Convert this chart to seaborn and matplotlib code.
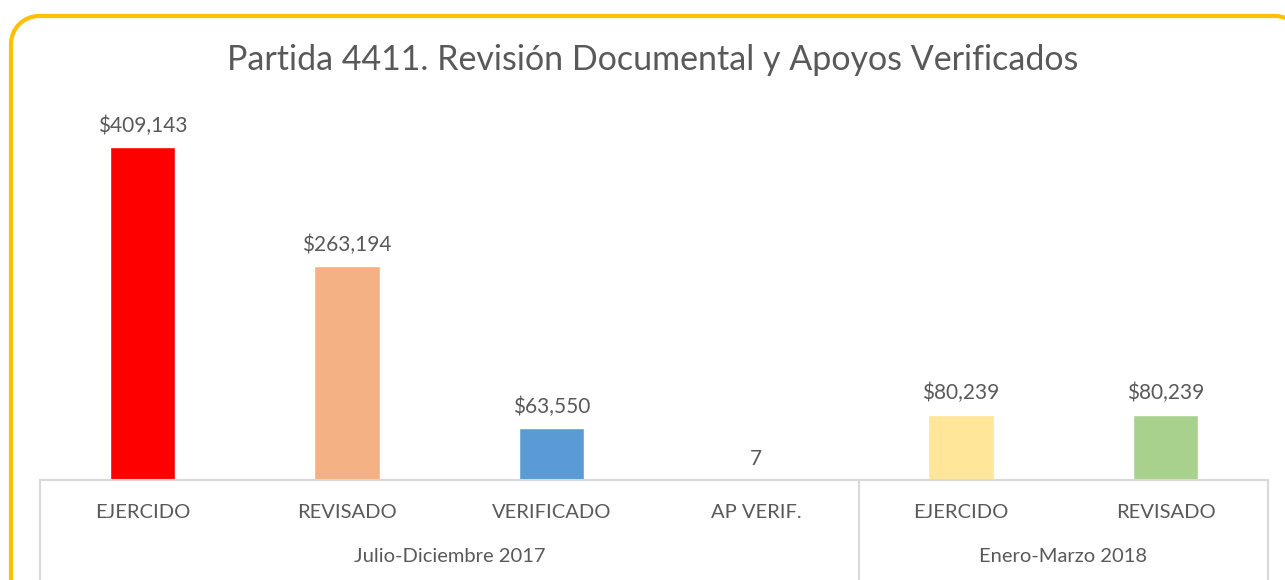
import pandas as pd
import seaborn as sns
import matplotlib.pyplot as plt
from matplotlib.path import Path
from matplotlib.patches import PathPatch
from matplotlib.lines import Line2D

# data
categories = ['EJERCIDO', 'REVISADO', 'VERIFICADO', 'AP VERIF.', 'EJERCIDO', 'REVISADO']
periods = ['Julio-Diciembre 2017'] * 4 + ['Enero-Marzo 2018'] * 2
values = [409143, 263194, 63550, 7, 80239, 80239]
is_money = [True, True, True, False, True, True]
bar_colors = ['#FF0000', '#F4B183', '#5B9BD5', '#A5A5A5', '#FFE699', '#A9D18E']
title = 'Partida 4411. Revisión Documental y Apoyos Verificados'

text_color = '#595959'
W, H = 1285, 580

df = pd.DataFrame({'category': categories, 'period': periods, 'value': values})
df['key'] = [f'{i}_{c}' for i, c in enumerate(categories)]

sns.set_style('white')
plt.rcParams['font.family'] = ['Lato', 'DejaVu Sans']

fig = plt.figure(figsize=(W / 100, H / 100), dpi=100)
ax = fig.add_axes([40 / W, 100 / H, (1268 - 40) / W, 380 / H])

sns.barplot(data=df, x='key', y='value', hue='key', palette=bar_colors,
            legend=False, width=0.32, saturation=1, ax=ax)

ax.set_ylim(0, values[0] * 380 / 333)
ax.set_xlim(-0.5, len(categories) - 0.5)
for s in ax.spines.values():
    s.set_visible(False)
ax.set_xticks([])
ax.set_yticks([])
ax.set_xlabel('')
ax.set_ylabel('')

# value labels
for i, (v, m) in enumerate(zip(values, is_money)):
    lab = f'${v:,}' if m else f'{v}'
    ax.annotate(lab, (i, v), xytext=(0, 8), textcoords='offset points',
                ha='center', va='bottom', fontsize=15, color=text_color)

# multi-level category axis drawn like a table
line_col = '#D9D9D9'
trans = ax.get_xaxis_transform()
ax.add_line(Line2D([-0.5, len(categories) - 0.5], [0, 0], transform=trans,
                   color=line_col, lw=1.5, clip_on=False))
group_edges = [-0.5]
groups = []
for i, p in enumerate(periods):
    if i == 0 or p != periods[i - 1]:
        groups.append([p, i, i])
    else:
        groups[-1][2] = i
for p, a, b in groups:
    group_edges.append(b + 0.5)
for e in group_edges:
    ax.add_line(Line2D([e, e], [0, -100 / 380], transform=trans,
                       color=line_col, lw=1.5, clip_on=False))
for i, c in enumerate(categories):
    ax.text(i, -32 / 380, c, transform=trans, ha='center', va='center',
            fontsize=14.5, color=text_color)
for p, a, b in groups:
    ax.text((a + b) / 2, -77 / 380, p, transform=trans, ha='center', va='center',
            fontsize=14.5, color=text_color)

fig.text(653 / W, 1 - 60 / H, title, ha='center', va='center',
         fontsize=24.5, color=text_color)

# rounded chart border (open path in pixels), running off the right and bottom
x0, x1, yt, r = 11, 1303, H - 16, 28
k = 0.5523 * r
verts = [(x0, -20), (x0, yt - r),
         (x0, yt - r + k), (x0 + r - k, yt), (x0 + r, yt),
         (x1 - r, yt),
         (x1 - r + k, yt), (x1, yt - r + k), (x1, yt - r),
         (x1, -20)]
codes = [Path.MOVETO, Path.LINETO,
         Path.CURVE4, Path.CURVE4, Path.CURVE4,
         Path.LINETO,
         Path.CURVE4, Path.CURVE4, Path.CURVE4,
         Path.LINETO]
border = PathPatch(Path(verts, codes), transform=None, fill=False,
                   edgecolor='#FFC000', linewidth=3)
fig.patches.append(border)

fig.savefig('out.png', dpi=100)
